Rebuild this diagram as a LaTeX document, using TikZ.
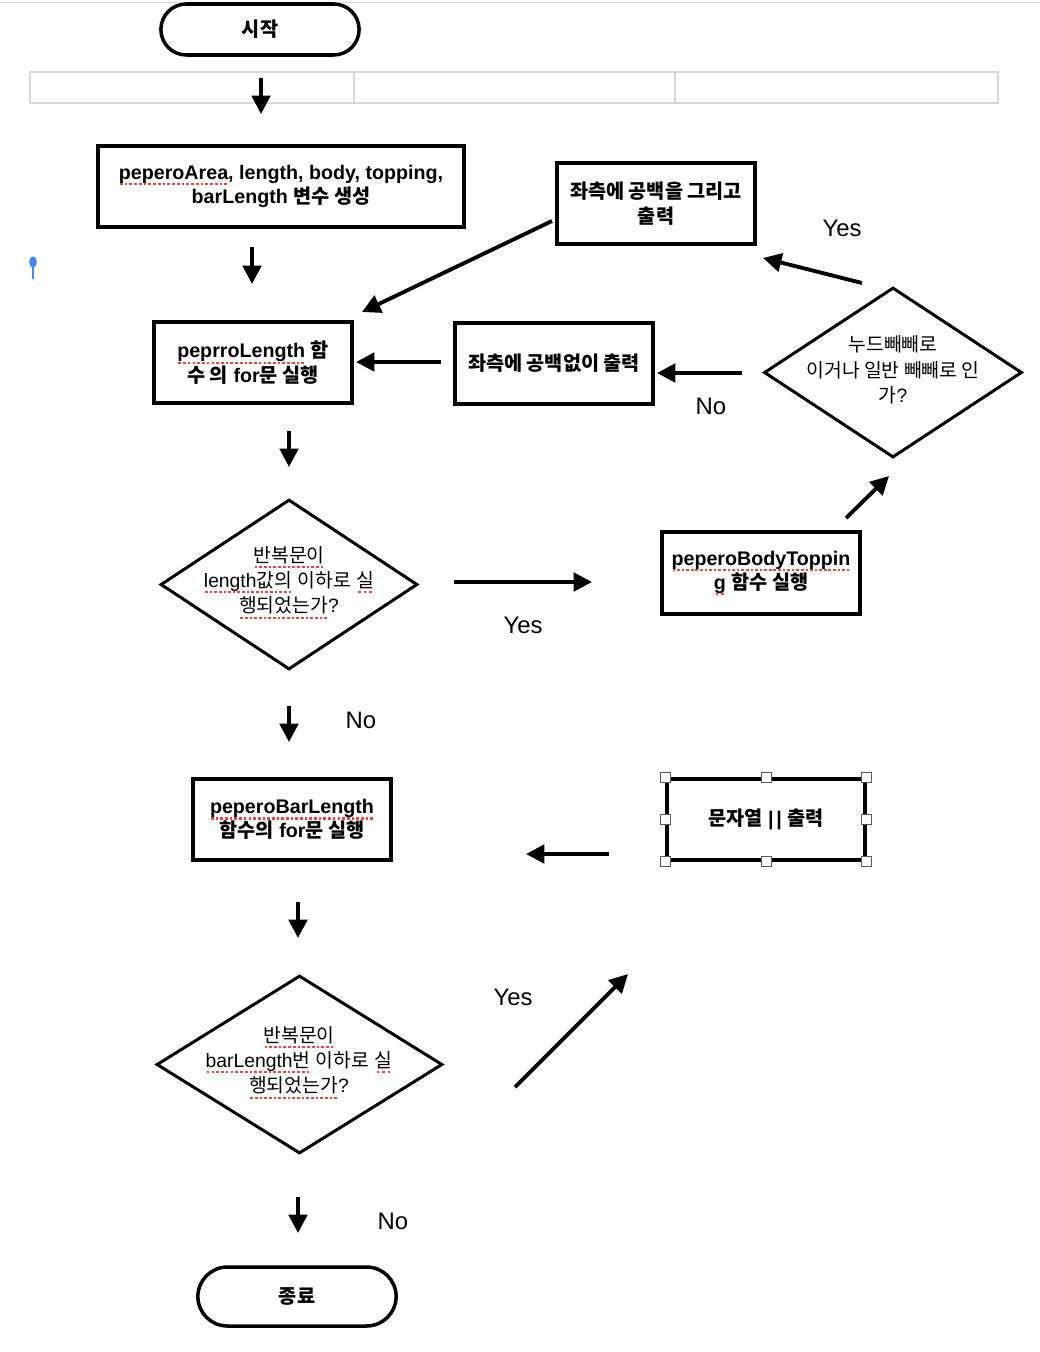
\documentclass[tikz,border=0pt]{standalone}
\usepackage{fontspec}
\setmainfont{Liberation Sans}
\newfontfamily\kr{Noto Sans CJK KR}
\usetikzlibrary{shapes.geometric,shapes.misc,calc,positioning,arrows.meta}

\definecolor{linegray}{RGB}{212,215,219}
\definecolor{spellred}{RGB}{232,72,60}
\definecolor{pinblue}{RGB}{66,133,244}
\definecolor{handlegray}{RGB}{90,90,90}

\newsavebox\spellbox
\newcommand\spell[1]{\sbox\spellbox{#1}\rlap{\usebox\spellbox}\raisebox{-3.4pt}{\color{spellred}\xleaders\hbox to 2.6pt{\hss\rule{1.5pt}{1.2pt}\hss}\hskip\wd\spellbox}}

\tikzset{
  terminal/.style={rounded rectangle, draw, line width=2pt, fill=white, minimum width=4.2cm, font=\fontsize{11.2}{13.8}\selectfont\bfseries},
  procbox/.style={rectangle, draw, line width=2.2pt, minimum width=3.96cm, minimum height=1.62cm, align=center, font=\fontsize{11.2}{13.8}\selectfont\bfseries},
  decision/.style={diamond, draw, line width=1.7pt, inner sep=0pt},
  dtext/.style={align=center, font=\fontsize{11}{14.5}\selectfont},
  answer/.style={font=\fontsize{13.6}{16}\selectfont},
  arr/.style={line width=2.2pt, -{Triangle[length=10.5pt,width=10.5pt]}},
  handle/.style={rectangle, draw=handlegray, fill=white, line width=0.5pt, minimum size=0.2cm, inner sep=0pt}
}

\begin{document}
\begin{tikzpicture}[x=0.02cm, y=-0.02cm]
\useasboundingbox (0,0) rectangle (1040,1352);
\draw[linegray, line width=1pt] (0,2.5) -- (1040,2.5);
\draw[linegray, line width=1.2pt] (30,72) rectangle (998,103) (354,72) -- (354,103) (675,72) -- (675,103);
\draw[pinblue, line width=1.2pt] (33,262) -- (33,279);
\fill[pinblue] (33,262) ellipse (2.2pt and 3.2pt);

\node[terminal, minimum height=1.02cm] (start) at (260,29.5) {{\kr 시작}};
\node[procbox, minimum width=7.32cm] (vars) at (281,186.5) {\spell{peperoArea}, length, body, topping,\\ barLength {\kr 변수 생성}};
\node[procbox] (padout) at (656,203.5) {{\kr 좌측에 공백을 그리고}\\{\kr 출력}};
\node[procbox] (lenloop) at (253,362.5) {\spell{peprroLength} {\kr 함}\\{\kr 수 의} for{\kr 문 실행}};
\node[procbox] (plainout) at (554,363.5) {{\kr 좌측에 공백없이 출력}};
\node[decision, minimum width=5.16cm, minimum height=3.4cm] (nude) at (893,372.5) {};
\node[dtext] (nudet) at (893,370) {{\kr 누드빼빼로}\\{\kr 이거나 일반 빼빼로 인}\\{\kr 가}?};
\node[procbox, minimum height=1.64cm] (body) at (761,573) {\spell{peperoBodyToppin}\\\spell{g} {\kr 함수 실행}};
\node[decision, minimum width=5.14cm, minimum height=3.4cm] (lencheck) at (289,584.5) {};
\node[dtext] (lencheckt) at (289,582.5) {\spell{\kr 반복문이}\\\spell{length{\kr 값의}} {\kr 이하로} \spell{\kr 실}\\\spell{\kr 행되었는가}?};
\node[procbox] (barloop) at (292,819.5) {\spell{peperoBarLength}\\{\kr 함수의} for{\kr 문 실행}};
\node[procbox] (print) at (766,819.5) {{\kr 문자열} |\kern1.5pt| {\kr 출력}};
\foreach \a in {north west,north,north east,east,south east,south,south west,west}
  \node[handle] at (print.\a) {};
\node[decision, minimum width=5.72cm, minimum height=3.56cm] (barcheck) at (299.5,1064.5) {};
\node[dtext] (barcheckt) at (299,1062.5) {\spell{\kr 반복문이}\\\spell{barLength{\kr 번}} {\kr 이하로} \spell{\kr 실}\\\spell{\kr 행되었는가}?};
\node[terminal, minimum height=1.18cm] (stop) at (297,1296.5) {{\kr 종료}};

\node[answer] (yes1) at (842,228) {Yes};
\node[answer] (no1) at (711,406) {No};
\node[answer] (yes2) at (523,625) {Yes};
\node[answer] (no2) at (361,720) {No};
\node[answer] (yes3) at (513,997) {Yes};
\node[answer] (no3) at (393,1221) {No};

% free arrows
\foreach \n/\xa/\ya/\xb/\yb in {1/261/78/261/114, 2/252/247/252/284, 3/552/221/362/312,
    4/862/283/763/258, 5/441/362/356/362, 6/742/373/657/373, 7/846/518/889/476,
    8/454/582/592/582, 9/289/431/289/467, 10/289/706/289/742, 11/609/854/526/854,
    12/298/902/298/938, 13/515/1087/628/974, 14/298/1197/298/1233}{
  \coordinate (s\n) at (\xa,\ya);
  \coordinate (e\n) at (\xb,\yb);
  \draw[arr] (s\n) -- (e\n);
}
\end{tikzpicture}
\end{document}
